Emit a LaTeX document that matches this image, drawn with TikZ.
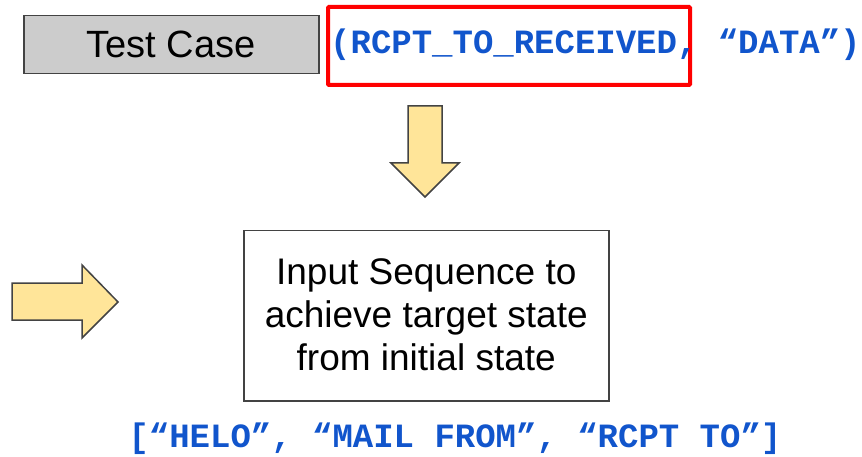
\documentclass[tikz,border=0pt]{standalone}
\usepackage{fontspec}
\setmainfont{Liberation Sans}
\newfontfamily\monof{Liberation Mono}
\definecolor{gdblue}{HTML}{1155CC}
\definecolor{arrowfill}{HTML}{FFE599}
\definecolor{edgegray}{HTML}{434343}
\definecolor{boxgray}{HTML}{CCCCCC}
\begin{document}
\begin{tikzpicture}[x=1pt,y=-1pt,
  box/.style={draw=edgegray,line width=1.5pt,inner sep=0pt,anchor=north west},
  bigarrow/.style={draw=edgegray,line width=1.5pt,fill=arrowfill,line join=miter},
  code/.style={font=\monof\bfseries\fontsize{34}{40}\selectfont,text=gdblue,inner sep=0pt}]
\useasboundingbox (0,0) rectangle (862,457);
% Test case box
\node[box,fill=boxgray,minimum width=295pt,minimum height=58pt] (tc) at (23,15) {};
\node[font=\fontsize{38}{44}\selectfont,inner sep=0pt] (tct) at (tc.center) {Test Case};
% red highlight
\node[draw=red,line width=4pt,minimum width=362pt,minimum height=78pt,inner sep=0pt,anchor=north west,rounded corners=1pt] (hl) at (326,5) {};
% code text
\node[code,anchor=west] (tuple) at (330,45) {(RCPT\_TO\_RECEIVED, “DATA”)};
% down arrow
\draw[bigarrow] (408,106) -- (442,106) -- (442,163) -- (459,163) -- (425,197) -- (391,163) -- (408,163) -- cycle;
% right arrow
\draw[bigarrow] (12,283) -- (82,283) -- (82,265) -- (118,302) -- (82,338) -- (82,320) -- (12,320) -- cycle;
% input sequence box
\node[box,fill=white,minimum width=365pt,minimum height=170pt] (seq) at (243,230) {};
\node[font=\fontsize{37}{43}\selectfont,align=center,inner sep=0pt] (seqt) at ([yshift=1pt]seq.center) {Input Sequence to\\achieve target state\\from initial state};
% bottom code
\node[code] (inputs) at (455,439) {[“HELO”, “MAIL FROM”, “RCPT TO”]};
\end{tikzpicture}
\end{document}
